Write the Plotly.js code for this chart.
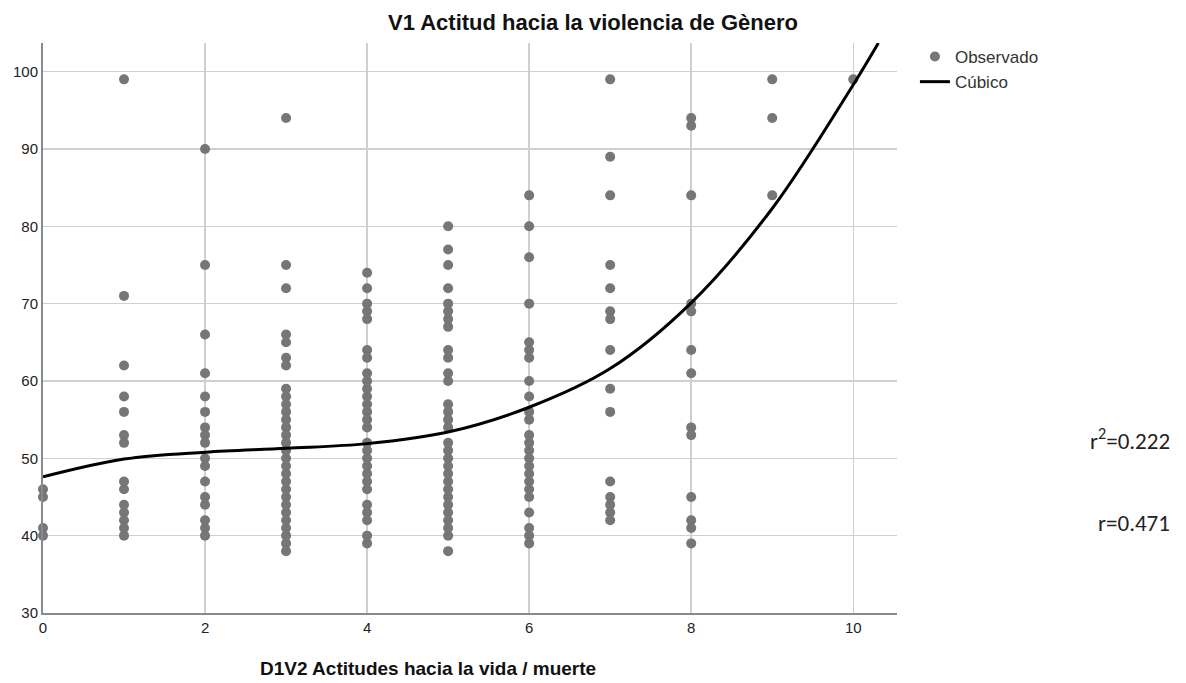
<!DOCTYPE html>
<html>
<head>
<meta charset="utf-8">
<script src="https://cdn.plot.ly/plotly-3.0.1.min.js"></script>
<style>html,body{margin:0;padding:0;background:#fff;}#chart{width:1186px;height:683px;}</style>
</head>
<body>
<div id="chart"></div>
<script>
// Observed values per x (D1V2) category
const xValues = [0, 1, 2, 3, 4, 5, 6, 7, 8, 9, 10];
const obs0 = [46, 45, 41, 40];
const obs1 = [99, 71, 62, 58, 56, 53, 52, 47, 46, 44, 43, 42, 41, 40];
const obs2 = [90, 75, 66, 61, 58, 56, 54, 53, 52, 50, 49, 47, 45, 44, 42, 41, 40];
const obs3 = [94, 75, 72, 66, 65, 63, 62, 59, 58, 57, 56, 55, 54, 53, 52, 51, 50, 49, 48, 47, 46, 45, 44, 43, 42, 41, 40, 39, 38];
const obs4 = [74, 72, 70, 69, 68, 64, 63, 61, 60, 59, 58, 57, 56, 55, 54, 52, 51, 50, 49, 48, 47, 46, 44, 43, 42, 40, 39];
const obs5 = [80, 77, 75, 72, 70, 69, 68, 67, 64, 63, 61, 60, 57, 56, 55, 54, 52, 51, 50, 49, 48, 47, 46, 45, 44, 43, 42, 41, 40, 38];
const obs6 = [84, 80, 76, 70, 65, 64, 63, 60, 58, 56, 55, 53, 52, 51, 50, 49, 48, 47, 46, 45, 43, 41, 40, 39];
const obs7 = [99, 89, 84, 75, 72, 69, 68, 64, 59, 56, 47, 45, 44, 43, 42];
const obs8 = [94, 93, 84, 70, 69, 64, 61, 54, 53, 45, 42, 41, 39];
const obs9 = [99, 94, 84];
const obs10 = [99];
const observed = [obs0, obs1, obs2, obs3, obs4, obs5, obs6, obs7, obs8, obs9, obs10];

// Cubic fit curve
const fitX = [0, 1, 2, 3, 4, 5, 6, 7, 8, 9, 10, 10.31];
const fitY = [47.6, 49.9, 50.8, 51.3, 51.9, 53.4, 56.6, 61.6, 70.1, 82.3, 98.3, 103.7];

const xTicks = [0, 2, 4, 6, 8, 10];
const yTicks = [30, 40, 50, 60, 70, 80, 90, 100];

const title = 'V1 Actitud hacia la violencia de Gènero';
const xTitle = 'D1V2 Actitudes hacia la vida / muerte';
const statR2 = 'r<sup>2</sup>=0.222';
const statR = 'r=0.471';

const px = [], py = [];
observed.forEach((vals, i) => vals.forEach(v => { px.push(xValues[i]); py.push(v); }));

const font = 'Liberation Sans, Arial, sans-serif';

const traces = [
  {
    type: 'scatter', mode: 'markers', name: 'Observado',
    x: px, y: py,
    marker: {color: '#767676', size: 10},
    cliponaxis: false,
    hoverinfo: 'x+y'
  },
  {
    type: 'scatter', mode: 'lines', name: 'Cúbico',
    x: fitX, y: fitY,
    line: {color: '#000', width: 3, shape: 'spline', smoothing: 1},
    hoverinfo: 'x+y'
  }
];

const layout = {
  width: 1186, height: 683,
  margin: {l: 43, r: 289, t: 43, b: 70},
  paper_bgcolor: '#fff', plot_bgcolor: '#fff',
  font: {family: font, size: 15, color: '#222'},
  title: {text: '<b>' + title + '</b>', x: 0.5, xref: 'container', y: 0.968, yref: 'container',
          xanchor: 'center', yanchor: 'middle',
          font: {family: font, size: 22, color: '#111'}},
  showlegend: true,
  legend: {x: 1.021, xanchor: 'left', y: 1.007, yanchor: 'top',
           font: {family: font, size: 17, color: '#333'},
           bgcolor: 'rgba(0,0,0,0)', tracegroupgap: 0, itemwidth: 30},
  xaxis: {
    range: [0, 10.54], tickvals: xTicks, ticktext: xTicks.map(String),
    showgrid: true, gridcolor: '#cfcfcf', gridwidth: 1.5,
    showline: true, linecolor: '#8a8a8a', linewidth: 2,
    zeroline: false, ticks: '', ticklen: 0,
    tickfont: {family: font, size: 15, color: '#222'}
  },
  yaxis: {
    range: [30, 103.7], tickvals: yTicks, ticktext: yTicks.map(String),
    showgrid: true, gridcolor: '#cfcfcf', gridwidth: 1.5,
    showline: true, linecolor: '#8a8a8a', linewidth: 2,
    zeroline: false, ticks: '', ticklen: 0,
    tickfont: {family: font, size: 15, color: '#222'}
  },
  annotations: [
    {text: '<b>' + xTitle + '</b>', xref: 'paper', yref: 'paper', x: 0.451, y: -0.097,
     xanchor: 'center', yanchor: 'middle', showarrow: false,
     font: {family: font, size: 19, color: '#111'}},
    {text: statR2, xref: 'paper', yref: 'paper', x: 1.322, y: 0.304,
     xanchor: 'right', yanchor: 'middle', showarrow: false,
     font: {family: 'Carlito, Lato, Liberation Sans, sans-serif', size: 23, color: '#222'}},
    {text: statR, xref: 'paper', yref: 'paper', x: 1.322, y: 0.158,
     xanchor: 'right', yanchor: 'middle', showarrow: false,
     font: {family: 'Carlito, Lato, Liberation Sans, sans-serif', size: 23, color: '#222'}}
  ]
};

Plotly.newPlot('chart', traces, layout, {displayModeBar: false, staticPlot: true});
</script>
</body>
</html>
